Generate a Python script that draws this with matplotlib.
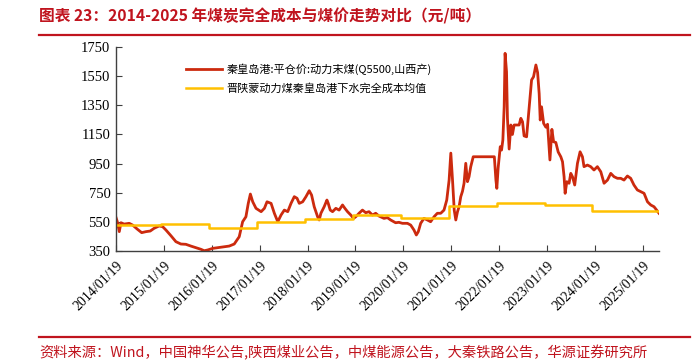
import matplotlib
matplotlib.use("Agg")
import matplotlib.pyplot as plt
from matplotlib.lines import Line2D
import pandas as pd

plt.rcParams['font.family'] = ['Noto Sans CJK SC', 'DejaVu Sans']

# 秦皇岛港:平仓价:动力末煤(Q5500,山西产)
price_dates = [
    '2014-01-19', '2014-01-26', '2014-02-01', '2014-02-13', '2014-02-26', '2014-03-22',
    '2014-04-30', '2014-05-26', '2014-07-02', '2014-08-03', '2014-09-05', '2014-10-07',
    '2014-11-06', '2014-12-14', '2015-01-10', '2015-02-04', '2015-03-14', '2015-04-21',
    '2015-05-29', '2015-07-06', '2015-08-13', '2015-09-20', '2015-10-28', '2015-11-23',
    '2015-12-19', '2016-01-26', '2016-03-04', '2016-04-24', '2016-06-01', '2016-07-09',
    '2016-08-16', '2016-09-11', '2016-10-06', '2016-10-24', '2016-11-09', '2016-11-27',
    '2016-12-22', '2017-01-30', '2017-02-24', '2017-03-16', '2017-04-16', '2017-05-11',
    '2017-06-06', '2017-07-01', '2017-07-26', '2017-08-21', '2017-09-15', '2017-10-10',
    '2017-10-31', '2017-11-17', '2017-12-13', '2018-01-07', '2018-02-01', '2018-02-19',
    '2018-03-11', '2018-04-06', '2018-04-18', '2018-05-01', '2018-05-26', '2018-06-16',
    '2018-06-26', '2018-07-11', '2018-07-29', '2018-08-23', '2018-09-17', '2018-10-13',
    '2018-10-31', '2018-11-20', '2018-12-15', '2019-01-05', '2019-01-22', '2019-02-16',
    '2019-03-14', '2019-04-08', '2019-05-03', '2019-05-29', '2019-06-23', '2019-07-18',
    '2019-08-25', '2019-09-20', '2019-10-15', '2019-11-22', '2019-12-17', '2020-01-13',
    '2020-02-20', '2020-03-16', '2020-04-10', '2020-04-28', '2020-05-13', '2020-05-31',
    '2020-06-25', '2020-07-21', '2020-08-15', '2020-09-10', '2020-10-05', '2020-10-31',
    '2020-11-25', '2020-12-16', '2021-01-03', '2021-01-16', '2021-01-29', '2021-02-11',
    '2021-02-23', '2021-03-08', '2021-03-20', '2021-04-02', '2021-04-15', '2021-04-27',
    '2021-05-10', '2021-05-23', '2021-06-04', '2021-06-17', '2021-07-06', '2021-12-14',
    '2021-12-26', '2022-01-02', '2022-01-12', '2022-01-28', '2022-02-07', '2022-02-17',
    '2022-02-27', '2022-03-06', '2022-03-17', '2022-03-24', '2022-04-06', '2022-04-19',
    '2022-05-01', '2022-05-14', '2022-06-21', '2022-07-04', '2022-07-17', '2022-07-29',
    '2022-08-17', '2022-09-06', '2022-09-24', '2022-10-09', '2022-10-27', '2022-11-09',
    '2022-11-21', '2022-11-29', '2022-12-09', '2022-12-25', '2023-01-11', '2023-01-24',
    '2023-02-11', '2023-02-26', '2023-03-11', '2023-03-28', '2023-04-15', '2023-05-05',
    '2023-05-18', '2023-05-30', '2023-06-07', '2023-06-20', '2023-07-07', '2023-07-20',
    '2023-08-02', '2023-08-19', '2023-09-09', '2023-09-29', '2023-10-17', '2023-10-29',
    '2023-11-24', '2023-12-19', '2024-01-13', '2024-02-08', '2024-03-05', '2024-03-30',
    '2024-04-25', '2024-05-20', '2024-06-14', '2024-07-10', '2024-08-04', '2024-08-29',
    '2024-09-24', '2024-10-19', '2024-11-13', '2024-12-09', '2025-01-04', '2025-01-29',
    '2025-02-24', '2025-03-21', '2025-04-15', '2025-05-05', '2025-05-23',
]
price_vals = [
    580, 560, 540, 483, 544, 535,
    540, 528, 499, 476, 483, 487,
    506, 522, 517, 494, 455, 414,
    398, 396, 384, 373, 362, 352,
    357, 368, 373, 380, 384, 398,
    448, 551, 585, 677, 741, 688,
    643, 620, 643, 688, 677, 609,
    551, 597, 631, 620, 677, 723,
    712, 677, 688, 723, 764, 734,
    654, 585, 563, 609, 654, 700,
    677, 631, 620, 643, 631, 666,
    643, 620, 597, 574, 585, 609,
    631, 613, 620, 597, 609, 590,
    574, 579, 563, 544, 547, 540,
    540, 528, 494, 460, 483, 540,
    574, 563, 551, 585, 609, 609,
    631, 700, 837, 1022, 837, 631,
    563, 620, 654, 723, 760, 815,
    952, 826, 860, 929, 997, 997,
    837, 780, 920, 1066, 1043, 1112,
    1340, 1707, 1580, 1260, 1050, 1215,
    1150, 1215, 1215, 1261, 1237, 1140,
    1134, 1340, 1524, 1546, 1627, 1575,
    1430, 1249, 1340, 1226, 1200, 1220,
    975, 1185, 1100, 1095, 1030, 997,
    963, 860, 746, 826, 815, 883,
    860, 803, 952, 1031, 997, 929,
    940, 929, 906, 929, 894, 815,
    837, 883, 860, 849, 849, 837,
    865, 849, 803, 769, 757, 746,
    688, 666, 654, 631, 609,
]

# 晋陕蒙动力煤秦皇岛港下水完全成本均值, one value per year
cost_years = [2014, 2015, 2016, 2017, 2018, 2019, 2020, 2021, 2022, 2023, 2024, 2025]
cost_vals = [530, 534, 509, 551, 570, 599, 578, 660, 677, 666, 625, 625]

tick_years = list(range(2014, 2026))
y_ticks = [350, 550, 750, 950, 1150, 1350, 1550, 1750]

RED = '#CC2A0E'
YELLOW = '#FFC000'
TITLE_RED = '#C0141E'

price_x = pd.to_datetime(price_dates)
start, end = price_x[0], price_x[-1]

# step line: value holds from Jan 1 of each year (first one from series start)
cost_x = [start] + [pd.Timestamp(f'{y}-01-01') for y in cost_years[1:]] + [end]
cost_y = cost_vals + [cost_vals[-1]]

fig = plt.figure(figsize=(6.95, 3.62), dpi=100)
ax = fig.add_axes([0.1669, 0.3066, 0.7813, 0.5634])

ax.plot(price_x, price_vals, color=RED, linewidth=2.0,
        label='秦皇岛港:平仓价:动力末煤(Q5500,山西产)')
ax.plot(cost_x, cost_y, color=YELLOW, linewidth=1.8, drawstyle='steps-post',
        label='晋陕蒙动力煤秦皇岛港下水完全成本均值')

ax.set_xlim(start, end)
ax.set_ylim(350, 1750)
ax.set_yticks(y_ticks)

xt = [pd.Timestamp(f'{y}-01-19') for y in tick_years]
ax.set_xticks(xt)
ax.set_xticklabels([f'{y}/01/19' for y in tick_years], rotation=45, ha='right',
                   rotation_mode='anchor', family='Liberation Serif', fontsize=10)
for lab in ax.get_yticklabels():
    lab.set_family('Liberation Serif')
    lab.set_fontsize(10.5)

ax.tick_params(axis='both', direction='in', length=4, color='#404040', pad=4)
ax.tick_params(axis='x', pad=6)
for s in ['top', 'right']:
    ax.spines[s].set_visible(False)
for s in ['left', 'bottom']:
    ax.spines[s].set_color('#404040')
    ax.spines[s].set_linewidth(1.0)

ax.legend(loc='upper left', bbox_to_anchor=(0.12, 0.94), frameon=False,
          fontsize=8, handlelength=3.3, labelspacing=0.75, handletextpad=0.4,
          borderaxespad=0)

fig.text(39 / 695, 1 - 16 / 362, '图表 23：2014-2025 年煤炭完全成本与煤价走势对比（元/吨）',
         color=TITLE_RED, fontsize=11.3, fontweight='bold', va='center', ha='left')
fig.add_artist(Line2D([39 / 695, 690 / 695], [1 - 35 / 362, 1 - 35 / 362],
                      color=TITLE_RED, linewidth=1.6))
fig.add_artist(Line2D([39 / 695, 690 / 695], [1 - 337 / 362, 1 - 337 / 362],
                      color=TITLE_RED, linewidth=1.6))
fig.text(39 / 695, 1 - 353 / 362,
         '资料来源：Wind，中国神华公告,陕西煤业公告，中煤能源公告，大秦铁路公告，华源证券研究所',
         color=TITLE_RED, fontsize=10.3, va='center', ha='left')

fig.savefig('out.png', dpi=100)
